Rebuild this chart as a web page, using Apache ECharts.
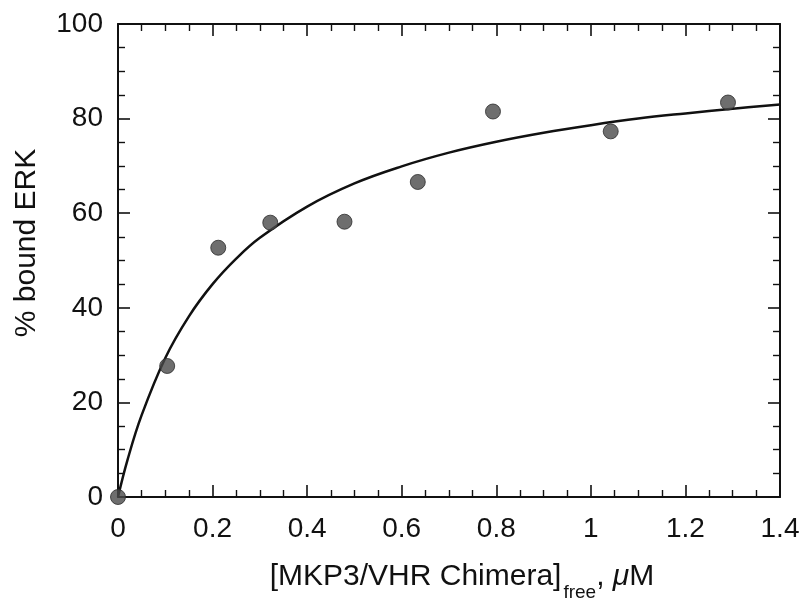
<!DOCTYPE html>
<html>
<head>
<meta charset="utf-8">
<script src="https://cdn.jsdelivr.net/npm/echarts@6/dist/echarts.min.js"></script>
<style>
  html, body { margin: 0; padding: 0; background: #fff; }
  #chart { width: 803px; height: 612px; }
</style>
</head>
<body>
<div id="chart"></div>
<script>
// measured binding points
const pointX = [0, 0.104, 0.212, 0.322, 0.479, 0.634, 0.793, 1.042, 1.29];
const pointY = [0, 27.7, 52.7, 58.0, 58.2, 66.6, 81.5, 77.3, 83.4];

// fitted curve
const curveX = [0, 0.02, 0.05, 0.1, 0.15, 0.2, 0.25, 0.3, 0.4, 0.5, 0.6, 0.7, 0.8, 0.9, 1.0, 1.1, 1.2, 1.3, 1.4];
const curveY = [0, 7.8, 17.3, 29.4, 38.2, 45.0, 50.4, 54.8, 61.4, 66.3, 69.9, 72.8, 75.1, 77.0, 78.6, 80.0, 81.1, 82.1, 83.0];

const xRange = [0, 1.4];
const yRange = [0, 100];

const chart = echarts.init(document.getElementById('chart'));

const fontFamily = 'Liberation Sans, Arial, Helvetica, sans-serif';

const axisLine = { show: true, onZero: false, lineStyle: { color: '#111', width: 2 } };
const tickCommon = {
  show: true,
  inside: true,
  length: 12,
  lineStyle: { color: '#111', width: 1.6 }
};
const minorCommon = {
  show: true,
  splitNumber: 4,
  length: 7,
  lineStyle: { color: '#111', width: 1.4 }
};

const option = {
  backgroundColor: '#fff',
  animation: false,
  grid: { left: 118, right: 23, top: 24, bottom: 115 },
  graphic: [
    {
      type: 'text',
      x: 27,
      y: 243,
      rotation: Math.PI / 2,
      style: {
        text: '% bound ERK',
        font: '30px ' + fontFamily,
        fill: '#111',
        textAlign: 'center',
        textVerticalAlign: 'middle'
      }
    }
  ],
  xAxis: [
    {
      type: 'value',
      min: xRange[0],
      max: xRange[1],
      interval: 0.2,
      position: 'bottom',
      axisLine: axisLine,
      axisTick: tickCommon,
      minorTick: minorCommon,
      splitLine: { show: false },
      axisLabel: { color: '#111', fontSize: 28, fontFamily: fontFamily, margin: 18 },
      name: '[MKP3/VHR Chimera]{sub|free}, {it|\u03bc}M',
      nameLocation: 'middle',
      nameGap: 54,
      nameTextStyle: {
        color: '#111',
        fontSize: 30,
        fontFamily: fontFamily,
        padding: [0, 0, 0, 26],
        rich: {
          sub: { fontSize: 19, fontFamily: fontFamily, color: '#111', padding: [32, 0, 0, 2], verticalAlign: 'bottom' },
          it: { fontSize: 30, fontFamily: fontFamily, fontStyle: 'italic', color: '#111' }
        }
      }
    },
    {
      type: 'value',
      min: xRange[0],
      max: xRange[1],
      interval: 0.2,
      position: 'top',
      axisLine: axisLine,
      axisTick: tickCommon,
      minorTick: minorCommon,
      splitLine: { show: false },
      axisLabel: { show: false }
    }
  ],
  yAxis: [
    {
      type: 'value',
      min: yRange[0],
      max: yRange[1],
      interval: 20,
      position: 'left',
      axisLine: axisLine,
      axisTick: tickCommon,
      minorTick: minorCommon,
      splitLine: { show: false },
      axisLabel: { color: '#111', fontSize: 28, fontFamily: fontFamily, margin: 15 }
    },
    {
      type: 'value',
      min: yRange[0],
      max: yRange[1],
      interval: 20,
      position: 'right',
      axisLine: axisLine,
      axisTick: tickCommon,
      minorTick: minorCommon,
      splitLine: { show: false },
      axisLabel: { show: false }
    }
  ],
  series: [
    {
      type: 'line',
      data: curveX.map((x, i) => [x, curveY[i]]),
      smooth: 0.4,
      showSymbol: false,
      lineStyle: { color: '#111', width: 2.5 },
      z: 2
    },
    {
      type: 'scatter',
      data: pointX.map((x, i) => [x, pointY[i]]),
      symbolSize: 15,
      clip: false,
      itemStyle: { color: '#4a4a4a', borderColor: '#2b2b2b', borderWidth: 1 },
      z: 3
    }
  ]
};

chart.setOption(option);
</script>
</body>
</html>
